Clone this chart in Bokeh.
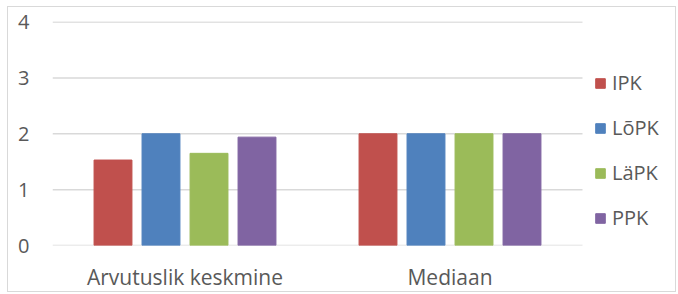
from bokeh.plotting import figure
from bokeh.models import Legend, LegendItem, ColumnDataSource, FixedTicker
from bokeh.embed import file_html
from bokeh.resources import INLINE

categories = ["Arvutuslik keskmine", "Mediaan"]
series = ["IPK", "LõPK", "LäPK", "PPK"]
IPK = [1.53, 2.0]
LoPK = [2.0, 2.0]
LaPK = [1.65, 2.0]
PPK = [1.94, 2.0]
colors = ["#C0504D", "#4F81BD", "#9BBB59", "#8064A2"]
y_ticks = [0, 1, 2, 3, 4]

FONT = "Open Sans"
cat_x = [i + 0.5 for i in range(len(categories))]
n_cat = len(categories)

p = figure(x_range=(0, 625 / 265), y_range=(0, 4.01),
           width=669, height=286, output_backend="svg", toolbar_location=None,
           min_border_left=44, min_border_right=0, min_border_top=14, min_border_bottom=44)
p.outline_line_color = None
p.styles = {"border": "1px solid #d9d9d9", "margin-left": "7px", "margin-top": "6px"}

# horizontal gridlines across the category area only
p.segment(x0=[0] * len(y_ticks), x1=[n_cat] * len(y_ticks), y0=y_ticks, y1=y_ticks,
          line_color="#d9d9d9", line_width=1.5)

offsets = [-0.2717, -0.0906, 0.0906, 0.2717]
renderers = []
for vals, off, col in zip([IPK, LoPK, LaPK, PPK], offsets, colors):
    src = ColumnDataSource(dict(x=[cx + off for cx in cat_x], top=vals))
    r = p.vbar(x="x", top="top", bottom=0, width=0.143, source=src,
               fill_color=col, line_color=col, line_width=1)
    renderers.append(r)

p.xgrid.grid_line_color = None
p.ygrid.grid_line_color = None
p.yaxis.ticker = FixedTicker(ticks=y_ticks)
p.xaxis.ticker = FixedTicker(ticks=cat_x)
p.xaxis.major_label_overrides = {cx: c for cx, c in zip(cat_x, categories)}
for ax in (p.xaxis[0], p.yaxis[0]):
    ax.axis_line_color = None
    ax.major_tick_line_color = None
    ax.minor_tick_line_color = None
    ax.major_label_text_font = FONT
    ax.major_label_text_color = "#595959"
    ax.major_label_text_font_size = "20px"
p.xaxis.major_label_text_font_size = "21px"
p.yaxis.major_label_standoff = 17
p.xaxis.major_label_standoff = 11

legend = Legend(items=[LegendItem(label=s, renderers=[r]) for s, r in zip(series, renderers)],
                location=(542, 14), orientation="vertical")
legend.label_text_font = FONT
legend.label_text_font_size = "20px"
legend.label_text_color = "#595959"
legend.glyph_width = 12
legend.glyph_height = 12
legend.label_standoff = 6
legend.spacing = 18
legend.label_height = 20
legend.border_line_color = None
legend.background_fill_alpha = 0
legend.padding = 0
legend.margin = 0
p.add_layout(legend, "center")

open("out.html", "w").write(file_html(p, INLINE))
